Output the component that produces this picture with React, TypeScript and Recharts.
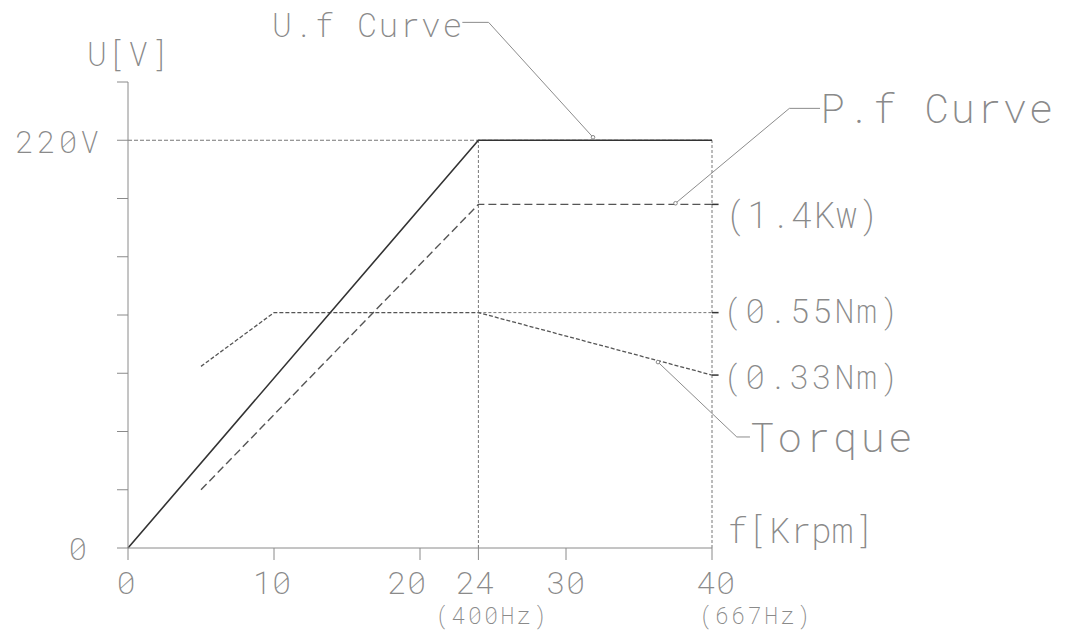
import React from "react"
import { LineChart, Line, XAxis, YAxis, ReferenceLine, ReferenceDot } from "recharts"

document.body.style.margin = "0"
document.body.style.overflow = "hidden"

const uf = [
  { x: 0, y: 0 },
  { x: 24, y: 220 },
  { x: 40, y: 220 },
]
const pf = [
  { x: 5, y: 31.4 },
  { x: 24, y: 185.4 },
  { x: 40, y: 185.4 },
]
const torque = [
  { x: 5, y: 98 },
  { x: 10, y: 127 },
  { x: 24, y: 127 },
  { x: 40, y: 93.3 },
]

const xTicks = [0, 10, 20, 24, 30, 40]
const xSubLabels: Record<number, string> = { 24: "(400Hz)", 40: "(667Hz)" }
const yStep = 220 / 7
const yTicks = [0, 1, 2, 3, 4, 5, 6, 7, 8].map((i) => i * yStep)
const yMax = 8 * yStep

// leader lines from the callout texts to the curves
const leaders = [
  [{ x: 22.9, y: 283.6 }, { x: 24.7, y: 283.6 }],
  [{ x: 24.7, y: 283.6 }, { x: 31.85, y: 221.6 }],
  [{ x: 47.4, y: 237.2 }, { x: 45.3, y: 237.2 }],
  [{ x: 45.3, y: 237.2 }, { x: 37.5, y: 186 }],
  [{ x: 42.6, y: 59.9 }, { x: 41.7, y: 59.9 }],
  [{ x: 41.7, y: 59.9 }, { x: 36.3, y: 100.3 }],
]
const leaderEnds = [
  { x: 31.85, y: 221.6 },
  { x: 37.5, y: 186 },
  { x: 36.3, y: 100.3 },
]

const FONT = '"Roboto Mono", "DejaVu Sans Mono", monospace'
const TEXT = "#8a8a8a"
const AXIS = "#8a8a8a"

const xLabelShift: Record<number, number> = { 0: -2, 10: -2, 20: -13, 24: -3, 30: 0, 40: 4 }
const xSubShift: Record<number, number> = { 24: 14, 40: 44 }

function XTick({ x, y, payload }: any) {
  const v = payload.value as number
  return (
    <g fontFamily={FONT} fontWeight={200} fill={TEXT}>
      <text x={x + (xLabelShift[v] ?? 0)} y={y + 34} textAnchor="middle" fontSize={32}>
        {v}
      </text>
      {xSubLabels[v] && (
        <text x={x + (xSubShift[v] ?? 0)} y={y + 64} textAnchor="middle" fontSize={23} letterSpacing={2.5}>
          {xSubLabels[v]}
        </text>
      )}
    </g>
  )
}

function YTick({ x, y, payload }: any) {
  const v = payload.value as number
  if (Math.abs(v) < 1e-6)
    return (
      <text x={x - 30} y={y + 12} textAnchor="end" fontSize={31} fontFamily={FONT} fontWeight={200} fill={TEXT}>
        0
      </text>
    )
  if (Math.abs(v - 220) < 1e-6)
    return (
      <text x={x - 15} y={y + 13} textAnchor="end" fontSize={31} letterSpacing={3} fontFamily={FONT} fontWeight={200} fill={TEXT}>
        220V
      </text>
    )
  return null
}

const callouts = [
  { text: "U[V]", x: 87, y: 66, size: 33, ls: 1 },
  { text: "U.f Curve", x: 272, y: 37, size: 33, ls: 1.5 },
  { text: "P.f Curve", x: 820, y: 123, size: 41, ls: 1.5 },
  { text: "(1.4Kw)", x: 725, y: 228, size: 36, ls: 0.5 },
  { text: "(0.55Nm)", x: 723, y: 323, size: 33, ls: 2.5 },
  { text: "(0.33Nm)", x: 723, y: 389, size: 33, ls: 2.5 },
  { text: "Torque", x: 750, y: 452, size: 41, ls: 3 },
  { text: "f[Krpm]", x: 727, y: 543, size: 35, ls: 0 },
]

export default function App() {
  return (
    <div style={{ position: "relative", width: 1065, height: 632, background: "#fff" }}>
      <LineChart width={1065} height={632} margin={{ top: 82, right: 353, bottom: 34, left: 60 }}>
        <XAxis
          dataKey="x"
          type="number"
          domain={[0, 40]}
          ticks={xTicks}
          interval={0}
          allowDuplicatedCategory={false}
          tickSize={12}
          tickMargin={0}
          height={50}
          stroke={AXIS}
          tick={<XTick />}
        />
        <YAxis
          type="number"
          domain={[0, yMax]}
          ticks={yTicks}
          interval={0}
          tickSize={11}
          tickMargin={0}
          width={68}
          stroke={AXIS}
          tick={<YTick />}
        />
        <ReferenceLine y={220} stroke="#777" strokeWidth={1} strokeDasharray="4 2" />
        <ReferenceLine segment={[{ x: 24, y: 0 }, { x: 24, y: 220 }]} stroke="#777" strokeDasharray="3 2" />
        <ReferenceLine segment={[{ x: 40, y: 0 }, { x: 40, y: 220 }]} stroke="#777" strokeDasharray="3 2" />
        <ReferenceLine segment={[{ x: 24, y: 127 }, { x: 40, y: 127 }]} stroke="#777" strokeDasharray="3 2" />
        {[185.4, 127, 93.3].map((v) => (
          <ReferenceLine
            key={v}
            segment={[{ x: 40, y: v }, { x: 40.45, y: v }]}
            stroke="#333"
            strokeWidth={1.5}
            ifOverflow="visible"
          />
        ))}
        {leaders.map((s, i) => (
          <ReferenceLine key={i} segment={s as any} stroke="#8c8c8c" strokeWidth={1} ifOverflow="visible" />
        ))}
        {leaderEnds.map((p, i) => (
          <ReferenceDot key={i} x={p.x} y={p.y} r={1.8} fill="#fff" stroke="#888" ifOverflow="visible" />
        ))}
        <Line data={torque} dataKey="y" type="linear" stroke="#555" strokeWidth={1.3} strokeDasharray="4 2" dot={false} isAnimationActive={false} />
        <Line data={pf} dataKey="y" type="linear" stroke="#555" strokeWidth={1.4} strokeDasharray="8 4" dot={false} isAnimationActive={false} />
        <Line data={uf} dataKey="y" type="linear" stroke="#333" strokeWidth={1.6} dot={false} isAnimationActive={false} />
      </LineChart>
      <svg
        width={1065}
        height={632}
        style={{ position: "absolute", left: 0, top: 0, pointerEvents: "none" }}
      >
        {callouts.map((c) => (
          <text
            key={c.text}
            x={c.x}
            y={c.y}
            fontSize={c.size}
            letterSpacing={c.ls}
            fontFamily={FONT}
            fontWeight={200}
            fill={TEXT}
          >
            {c.text}
          </text>
        ))}
      </svg>
    </div>
  )
}
